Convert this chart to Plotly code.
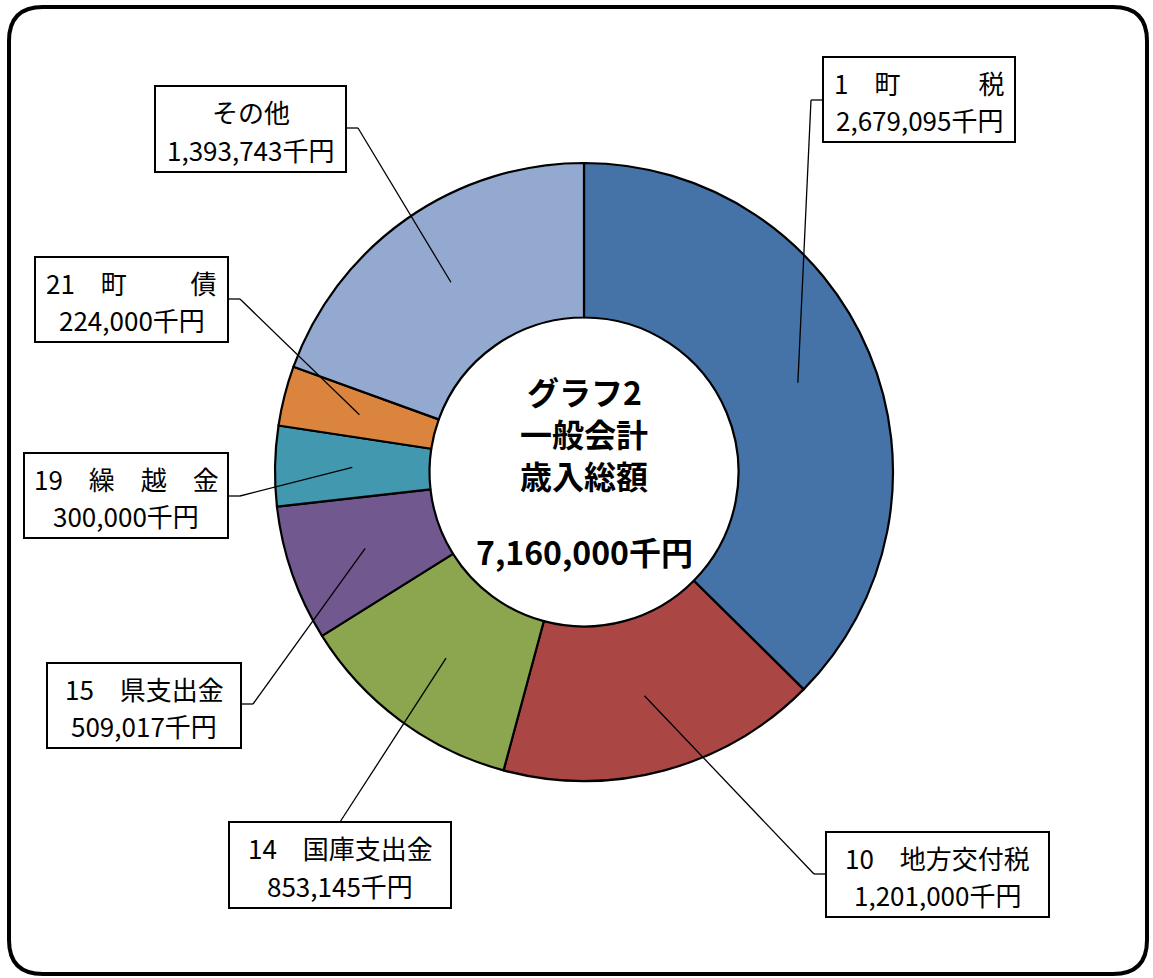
import math
import plotly.graph_objects as go

W, H = 1153, 978

# ---- data ----
categories = ["町税", "地方交付税", "国庫支出金", "県支出金", "繰越金", "町債", "その他"]
title_lines = ["1\u3000町\u3000\u3000\u3000税", "10\u3000地方交付税", "14\u3000国庫支出金",
               "15\u3000県支出金", "19\u3000繰\u3000越\u3000金", "21\u3000町\u3000\u3000\u00a0\u00a0債", "その他"]
values = [2679095, 1201000, 853145, 509017, 300000, 224000, 1393743]
total_label = "7,160,000千円"
center_lines = ["グラフ2", "一般会計", "歳入総額"]
colors = ["#4573A7", "#AA4644", "#8BA64F", "#71588F", "#4198AF", "#DB843D", "#94A9CF"]

# ---- layout geometry (pixels) ----
cx, cy, R = 584, 472, 309
# label boxes: x0, x1, y0, y1, attach side, stub/attach coordinate
boxes = [
    (823, 1015, 57, 142, "left", 100),
    (826, 1049, 832, 917, "left", 874),
    (229, 451, 822, 908, "top", 340),
    (47, 241, 663, 748, "right", 704),
    (24, 228, 453, 538, "right", 496),
    (35, 228, 257, 342, "right", 299),
    (155, 346, 86, 172, "right", 128),
]

FONT = "Noto Sans CJK JP, Noto Sans, sans-serif"


def px(x):
    return x / W


def py(y):
    return 1 - y / H


fig = go.Figure()
fig.add_trace(go.Pie(
    labels=categories, values=values, sort=False, direction="clockwise", rotation=0,
    hole=0.5, textinfo="none", hoverinfo="label+value",
    marker=dict(colors=colors, line=dict(color="black", width=2.2)),
    domain=dict(x=[px(cx - R), px(cx + R)], y=[py(cy + R), py(cy - R)]),
    showlegend=False,
))

shapes = []
annotations = []

# frame with rounded corners
fx0, fx1, fy0, fy1, rr = 9, 1147, 7, 974, 34
path = (f"M {px(fx0 + rr)},{py(fy0)} L {px(fx1 - rr)},{py(fy0)} "
        f"Q {px(fx1)},{py(fy0)} {px(fx1)},{py(fy0 + rr)} "
        f"L {px(fx1)},{py(fy1 - rr)} Q {px(fx1)},{py(fy1)} {px(fx1 - rr)},{py(fy1)} "
        f"L {px(fx0 + rr)},{py(fy1)} Q {px(fx0)},{py(fy1)} {px(fx0)},{py(fy1 - rr)} "
        f"L {px(fx0)},{py(fy0 + rr)} Q {px(fx0)},{py(fy0)} {px(fx0 + rr)},{py(fy0)} Z")
shapes.append(dict(type="path", xref="paper", yref="paper", path=path,
                   line=dict(color="black", width=4), layer="above"))

tot = sum(values)
cum = 0
for i, v in enumerate(values):
    mid = (cum + v / 2) / tot
    cum += v
    ang = 2 * math.pi * mid
    ex = cx + 0.75 * R * math.sin(ang)
    ey = cy - 0.75 * R * math.cos(ang)
    x0, x1, y0, y1, side, s = boxes[i]
    if side == "left":
        pts = [(x0, s), (x0 - 12, s), (ex, ey)]
    elif side == "right":
        pts = [(x1, s), (x1 + 12, s), (ex, ey)]
    else:
        pts = [(s, y0), (ex, ey)]
    for (ax, ay), (bx, by) in zip(pts[:-1], pts[1:]):
        shapes.append(dict(type="line", xref="paper", yref="paper",
                           x0=px(ax), y0=py(ay), x1=px(bx), y1=py(by),
                           line=dict(color="black", width=1.3), layer="above"))
    shapes.append(dict(type="rect", xref="paper", yref="paper",
                       x0=px(x0), x1=px(x1), y0=py(y0), y1=py(y1),
                       line=dict(color="black", width=2), fillcolor="white", layer="above"))
    h = y1 - y0
    xc = (x0 + x1) / 2
    annotations.append(dict(xref="paper", yref="paper", x=px(xc), y=py(y0 + 0.30 * h),
                            text=title_lines[i], showarrow=False, xanchor="center", yanchor="middle",
                            font=dict(family=FONT, size=26, color="black")))
    annotations.append(dict(xref="paper", yref="paper", x=px(xc), y=py(y0 + 0.74 * h),
                            text=f"{v:,}千円", showarrow=False, xanchor="center", yanchor="middle",
                            font=dict(family=FONT, size=26, color="black")))

for t, yy in zip(center_lines, [391, 433, 475]):
    annotations.append(dict(xref="paper", yref="paper", x=px(cx), y=py(yy), text=f"<b>{t}</b>",
                            showarrow=False, xanchor="center", yanchor="middle",
                            font=dict(family=FONT, size=32, color="black")))
annotations.append(dict(xref="paper", yref="paper", x=px(cx), y=py(551), text=f"<b>{total_label}</b>",
                        showarrow=False, xanchor="center", yanchor="middle",
                        font=dict(family=FONT, size=32, color="black")))

fig.update_layout(width=W, height=H, autosize=False, margin=dict(l=0, r=0, t=0, b=0),
                  paper_bgcolor="white", plot_bgcolor="white",
                  shapes=shapes, annotations=annotations)
fig.write_html("out.html")
